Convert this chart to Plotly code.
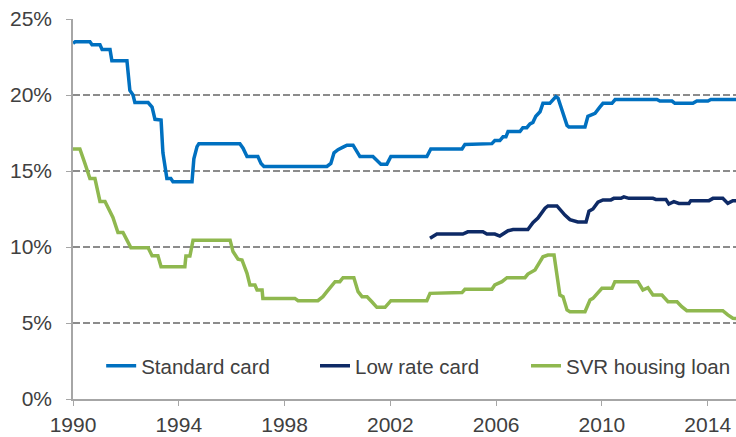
import plotly.graph_objects as go

# Interest rates, per cent (x as decimal years)
standard_card_years = [
    1990.0, 1990.08, 1990.64, 1990.72, 1991.02, 1991.1, 1991.4, 1991.47, 1992.04,
    1992.15, 1992.27, 1992.34, 1992.84, 1992.99, 1993.1, 1993.33, 1993.4, 1993.55,
    1993.7, 1993.78, 1994.5, 1994.57, 1994.69, 1994.76, 1996.31, 1996.43, 1996.58,
    1996.99, 1997.11, 1997.22, 1999.6, 1999.75, 1999.87, 2000.02, 2000.25, 2000.36,
    2000.59, 2000.85, 2001.34, 2001.5, 2001.64, 2001.87, 2002.02, 2003.38, 2003.53,
    2004.71, 2004.82, 2005.84, 2005.95, 2006.14, 2006.26, 2006.37, 2006.45, 2006.9,
    2007.01, 2007.16, 2007.28, 2007.39, 2007.5, 2007.66, 2007.77, 2008.03, 2008.26,
    2008.34, 2008.53, 2008.68, 2008.75, 2009.36, 2009.47, 2009.74, 2009.92, 2010.04,
    2010.38, 2010.5, 2012.08, 2012.19, 2012.65, 2012.76, 2013.44, 2013.59, 2014.01,
    2014.12, 2015.07,
]
standard_card_rate = [
    23.4, 23.5, 23.5, 23.3, 23.3, 23.0, 23.0, 22.25, 22.25,
    20.3, 20.0, 19.5, 19.5, 19.2, 18.4, 18.35, 16.2, 14.5,
    14.5, 14.3, 14.3, 15.8, 16.6, 16.8, 16.8, 16.5, 15.95,
    15.95, 15.5, 15.3, 15.3, 15.5, 16.2, 16.4, 16.6, 16.7,
    16.7, 15.95, 15.95, 15.7, 15.45, 15.45, 15.95, 15.95, 16.45,
    16.45, 16.75, 16.8, 17.0, 17.0, 17.25, 17.25, 17.6, 17.6,
    17.85, 17.85, 18.1, 18.2, 18.6, 18.9, 19.45, 19.45, 19.9,
    19.8, 18.8, 18.0, 17.9, 17.9, 18.6, 18.8, 19.2, 19.45,
    19.45, 19.7, 19.7, 19.6, 19.6, 19.45, 19.45, 19.6, 19.6,
    19.7, 19.7,
]

low_rate_card_years = [
    2003.5, 2003.76, 2004.74, 2004.93, 2005.5, 2005.65, 2005.95, 2006.14, 2006.45,
    2006.64, 2007.2, 2007.39, 2007.58, 2007.85, 2007.96, 2008.3, 2008.6, 2008.79,
    2009.09, 2009.4, 2009.51, 2009.66, 2009.85, 2010.04, 2010.34, 2010.45, 2010.72,
    2010.83, 2011.02, 2011.93, 2012.04, 2012.42, 2012.53, 2012.72, 2012.91, 2013.29,
    2013.36, 2014.05, 2014.2, 2014.57, 2014.76, 2014.95, 2015.07,
]
low_rate_card_rate = [
    10.57, 10.85, 10.85, 11.0, 11.0, 10.85, 10.85, 10.72, 11.07,
    11.15, 11.15, 11.6, 11.9, 12.55, 12.7, 12.7, 12.1, 11.8,
    11.65, 11.65, 12.35, 12.5, 12.95, 13.1, 13.1, 13.2, 13.2,
    13.3, 13.2, 13.2, 13.13, 13.13, 12.83, 12.98, 12.87, 12.87,
    13.05, 13.05, 13.2, 13.2, 12.87, 13.05, 13.05,
]

svr_housing_years = [
    1990.0, 1990.26, 1990.45, 1990.64, 1990.83, 1991.02, 1991.21, 1991.36, 1991.51,
    1991.7, 1991.89, 1992.04, 1992.19, 1992.84, 1992.99, 1993.21, 1993.33, 1994.23,
    1994.27, 1994.42, 1994.54, 1995.94, 1996.05, 1996.24, 1996.39, 1996.58, 1996.69,
    1996.88, 1996.96, 1997.15, 1997.18, 1998.39, 1998.51, 1999.26, 1999.45, 1999.6,
    1999.72, 1999.91, 2000.09, 2000.21, 2000.62, 2000.78, 2000.93, 2001.12, 2001.3,
    2001.49, 2001.8, 2002.02, 2003.38, 2003.5, 2004.71, 2004.82, 2005.84, 2005.95,
    2006.22, 2006.41, 2007.09, 2007.2, 2007.47, 2007.77, 2007.96, 2008.19, 2008.41,
    2008.53, 2008.68, 2008.79, 2009.36, 2009.55, 2009.66, 2010.0, 2010.38, 2010.49,
    2011.36, 2011.55, 2011.74, 2011.93, 2012.27, 2012.5, 2012.84, 2013.02, 2013.21,
    2014.57, 2014.76, 2014.95, 2015.07,
]
svr_housing_rate = [
    16.45, 16.45, 15.5, 14.5, 14.5, 13.0, 13.0, 12.45, 11.95,
    10.95, 10.95, 10.45, 9.95, 9.95, 9.43, 9.43, 8.7, 8.7,
    9.4, 9.4, 10.45, 10.45, 9.7, 9.2, 9.15, 8.27, 7.5,
    7.5, 7.17, 7.17, 6.62, 6.62, 6.47, 6.47, 6.73, 7.06,
    7.35, 7.72, 7.72, 7.98, 7.98, 7.06, 6.73, 6.73, 6.4,
    6.03, 6.03, 6.47, 6.47, 6.95, 7.0, 7.22, 7.22, 7.5,
    7.72, 7.98, 7.98, 8.22, 8.49, 9.36, 9.47, 9.47, 6.84,
    6.73, 5.86, 5.74, 5.74, 6.51, 6.62, 7.28, 7.28, 7.72,
    7.72, 7.17, 7.32, 6.84, 6.84, 6.4, 6.4, 6.07, 5.81,
    5.81, 5.53, 5.31, 5.3,
]

year_ticks = [1990, 1994, 1998, 2002, 2006, 2010, 2014]
pct_ticks = [0, 5, 10, 15, 20, 25]

FONT = "Liberation Sans, Arial, sans-serif"
TEXT = "#404040"
AXIS = "#a6a6a6"

fig = go.Figure()
fig.add_trace(go.Scatter(x=standard_card_years, y=standard_card_rate, name="Standard card",
                         mode="lines", line=dict(color="#0070c0", width=3.5), legend="legend"))
fig.add_trace(go.Scatter(x=low_rate_card_years, y=low_rate_card_rate, name="Low rate card",
                         mode="lines", line=dict(color="#0e2a66", width=3.5), legend="legend2"))
fig.add_trace(go.Scatter(x=svr_housing_years, y=svr_housing_rate, name="SVR housing loan",
                         mode="lines", line=dict(color="#8fb84f", width=3.5), legend="legend3"))


def legend_box(x):
    # one legend per series so each entry sits where the reference puts it
    return dict(
        orientation="h",
        x=x,
        xanchor="left",
        y=0.087,
        yanchor="middle",
        bgcolor="rgba(0,0,0,0)",
        font=dict(family=FONT, size=20.5, color=TEXT),
    )


fig.update_layout(
    width=736,
    height=437,
    margin=dict(l=73, r=0, t=19, b=38),
    paper_bgcolor="white",
    plot_bgcolor="white",
    font=dict(family=FONT, size=21, color=TEXT),
    showlegend=True,
    legend=legend_box(0.0425),
    legend2=legend_box(0.365),
    legend3=legend_box(0.6835),
)
fig.update_xaxes(
    range=[1990, 2015.07],
    tickvals=year_ticks,
    ticktext=[str(y) for y in year_ticks],
    showgrid=False,
    zeroline=False,
    showline=True,
    linecolor=AXIS,
    linewidth=1.5,
    ticks="outside",
    ticklen=5,
    tickcolor=AXIS,
    ticklabelstandoff=1,
    tickfont=dict(family=FONT, size=21, color=TEXT),
)
fig.update_yaxes(
    range=[0, 25],
    tickvals=pct_ticks,
    ticktext=[f"{v}%" for v in pct_ticks],
    showgrid=True,
    gridcolor="#8c8c8c",
    gridwidth=2,
    griddash="7px,3px",
    zeroline=False,
    showline=True,
    linecolor=AXIS,
    linewidth=1.5,
    ticks="outside",
    ticklen=5,
    tickcolor=AXIS,
    ticklabelstandoff=10,
    tickfont=dict(family=FONT, size=21, color=TEXT),
)

# drop the default page margin so the figure sits at the window's corner
fig.write_html(
    "out.html",
    config={"displayModeBar": False},
    post_script="document.body.style.margin='0';",
)
